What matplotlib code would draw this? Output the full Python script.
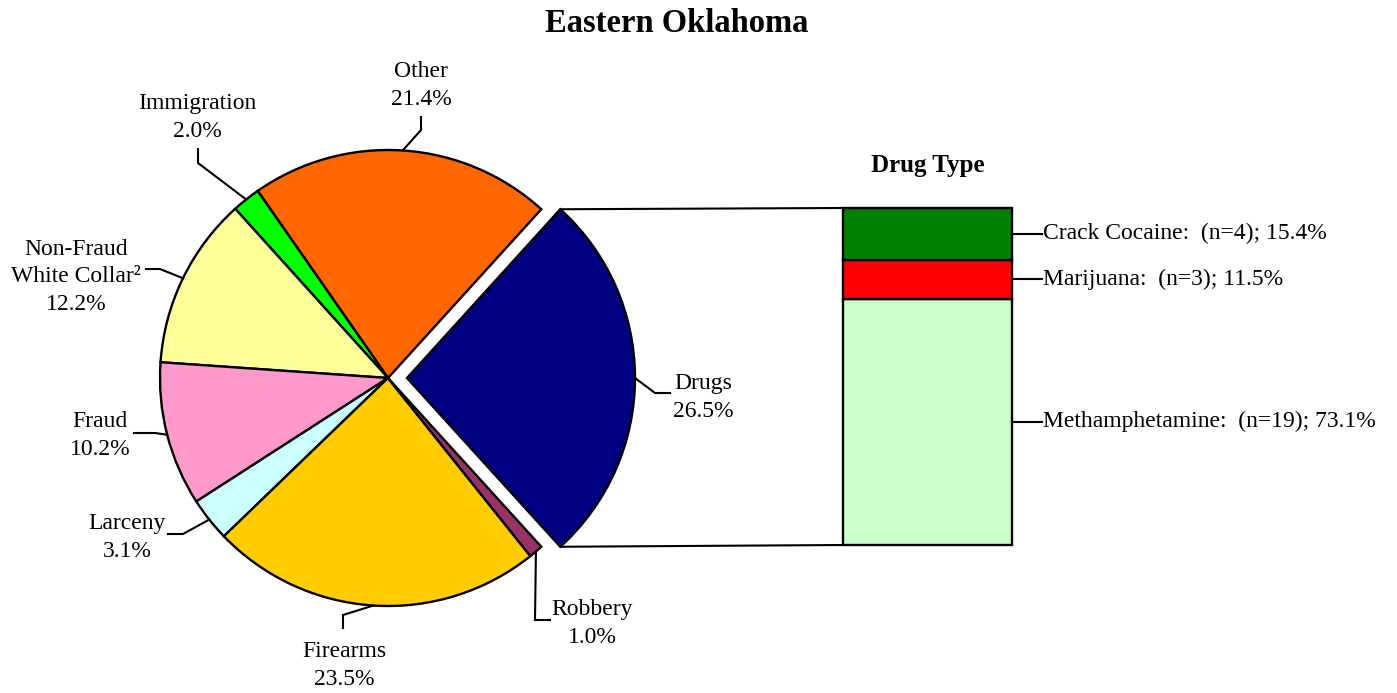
import numpy as np
import matplotlib
matplotlib.use('Agg')
import matplotlib.pyplot as plt
from matplotlib.patches import ConnectionPatch

W, H = 1397, 693

# pie data (share of cases, %)
offense_names = ['Drugs', 'Other', 'Immigration', 'Non-Fraud\nWhite Collar\u00b2', 'Fraud',
                 'Larceny', 'Firearms', 'Robbery']
offense_share = [26.5, 21.4, 2.0, 12.2, 10.2, 3.1, 23.5, 1.0]
offense_colors = ['#000080', '#FF6600', '#00FF00', '#FFFF99', '#FF99CC',
                  '#CCFFFF', '#FFCC00', '#993366']

# drug type breakdown (counts)
drug_names = ['Methamphetamine', 'Marijuana', 'Crack Cocaine']
drug_counts = [19, 3, 4]
drug_colors = ['#CCFFCC', '#FF0000', '#008000']

plt.rcParams['font.family'] = ['Liberation Serif', 'DejaVu Serif']


def px(x, y):
    # picture pixel (y down) -> data coords (y up)
    return x, H - y


fig = plt.figure(figsize=(W / 100, H / 100), dpi=100)
ax = fig.add_axes([0, 0, 1, 1])

cx, cy = px(388, 378)
R = 228
explode = [19, 0, 0, 0, 0, 0, 0, 0]
start = -offense_share[0] / sum(offense_share) * 360 / 2
wedges, _ = ax.pie(offense_share, colors=offense_colors, startangle=start, explode=explode,
                   center=(cx, cy), radius=R, counterclock=True,
                   wedgeprops=dict(edgecolor='black', linewidth=1.7))
ax.set_xlim(0, W)
ax.set_ylim(0, H)
ax.set_aspect('equal')
ax.axis('off')

# label placement: (text x, last baseline y) and leader elbows, in picture pixels
label_pos = [(703, 417), (421, 105), (197, 137), (76, 310), (100, 455),
             (127, 557), (344, 685), (592, 643)]
leaders = [[(655, 393), (670, 393)],
           [(421, 130), (421, 117)],
           [(198, 163), (198, 149)],
           [(160, 269), (146, 269)],
           [(155, 433), (134, 433)],
           [(183, 534), (168, 534)],
           [(343, 615), (343, 628)],
           [(535, 620), (550, 620)]]

for w, name, val, (tx, ty), elbows in zip(wedges, offense_names, offense_share, label_pos, leaders):
    tm = np.deg2rad((w.theta1 + w.theta2) / 2)
    ex = w.center[0] + w.r * np.cos(tm)
    ey = w.center[1] + w.r * np.sin(tm)
    xs = [ex] + [px(*p)[0] for p in elbows]
    ys = [ey] + [px(*p)[1] for p in elbows]
    ax.plot(xs, ys, color='black', lw=1.5, solid_joinstyle='miter')
    ax.text(*px(tx, ty), f'{name}\n{val:.1f}%', ha='center', va='baseline',
            fontsize=17, linespacing=1.42)

ax.text(*px(677, 32), 'Eastern Oklahoma', ha='center', va='baseline',
        fontsize=23.5, fontweight='bold')

# drug type bar
bx0, bx1, by0, by1 = 843, 1012, 208, 545
ax2 = fig.add_axes([bx0 / W, (H - by1) / H, (bx1 - bx0) / W, (by1 - by0) / H])
total = sum(drug_counts)
bottom = 0
for name, n, col in zip(drug_names, drug_counts, drug_colors):
    ax2.bar(0, n, bottom=bottom, width=1, color=col, edgecolor='black', lw=1.7, clip_on=False)
    mid = bottom + n / 2
    ax2.plot([0.5, 0.68], [mid, mid], color='black', lw=1.5, clip_on=False)
    ax2.text(0.685, mid, f'{name}:  (n={n}); {n / total * 100:.1f}%', ha='left', va='center',
             fontsize=17)
    bottom += n
ax2.set_xlim(-0.5, 0.5)
ax2.set_ylim(0, total)
ax2.axis('off')
ax2.text(0.5, 1 + 36 / (by1 - by0), 'Drug Type', transform=ax2.transAxes, ha='center',
         va='baseline', fontsize=18, fontweight='bold')

# lines from exploded slice to bar
dw = wedges[0]
for ang, yb in [(dw.theta2, 1), (dw.theta1, 0)]:
    a = np.deg2rad(ang)
    p = (dw.center[0] + dw.r * np.cos(a), dw.center[1] + dw.r * np.sin(a))
    con = ConnectionPatch(xyA=p, coordsA=ax.transData, xyB=(0, yb), coordsB=ax2.transAxes,
                          color='black', lw=1.5)
    fig.add_artist(con)

fig.savefig('out.png', dpi=100, facecolor='white')
